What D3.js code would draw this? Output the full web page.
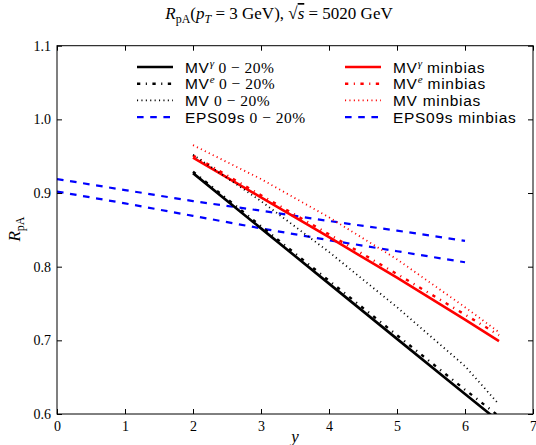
<!DOCTYPE html>
<html><head><meta charset="utf-8">
<script src="https://cdn.jsdelivr.net/npm/d3@7/dist/d3.min.js"></script>
<style>
html,body{margin:0;padding:0;background:#fff;}
svg{display:block;}
</style></head>
<body>
<script>
// ---- data ----
const mvY = [2, 3, 4, 5, 6, 6.5];
const mvGamma020 = [0.927, 0.852, 0.777, 0.702, 0.627, 0.590];
const mvE020     = [0.929, 0.855, 0.781, 0.707, 0.633, 0.597];
const mv020      = [0.952, 0.889, 0.820, 0.745, 0.665, 0.613];
const mvGammaMB  = [0.948, 0.894, 0.840, 0.785, 0.728, 0.699];
const mvEMB      = [0.951, 0.897, 0.844, 0.790, 0.735, 0.707];
const mvMB       = [0.965, 0.919, 0.867, 0.810, 0.745, 0.711];
const epsY = [0, 1, 2, 3, 4, 5, 6];
const eps020 = [0.902, 0.886, 0.869, 0.852, 0.836, 0.821, 0.806];
const epsMB  = [0.919, 0.904, 0.889, 0.876, 0.862, 0.849, 0.835];
const xTicks = [0, 1, 2, 3, 4, 5, 6, 7];
const yTicks = [0.6, 0.7, 0.8, 0.9, 1.0, 1.1];

const W = 536, H = 445;
const L = 57, R = 533, T = 45.7, B = 414;
const SANS = "'Liberation Sans', Arial, sans-serif";
const SERIF = "'Liberation Serif', 'Times New Roman', serif";

const svg = d3.select("body").append("svg").attr("width", W).attr("height", H);
const x = d3.scaleLinear().domain([0, 7]).range([L, R]);
const y = d3.scaleLinear().domain([0.6, 1.1]).range([B, T]);

svg.append("clipPath").attr("id", "clip").append("rect")
  .attr("x", L).attr("y", T).attr("width", R - L).attr("height", B - T);

const styles = {
  solid:   {w: 2.6, dash: null},
  dashdot: {w: 2.4, dash: "3.3,5.5,1.1,5.5"},
  dotted:  {w: 1.8, dash: "1.1,3.3"},
  dashed:  {w: 2.2, dash: "6.6,6.6"}
};

const series = [
  {xs: epsY, ys: eps020, color: "#0000ff", st: "dashed"},
  {xs: epsY, ys: epsMB, color: "#0000ff", st: "dashed"},
  {xs: mvY, ys: mvMB, color: "#ff0000", st: "dotted"},
  {xs: mvY, ys: mvEMB, color: "#ff0000", st: "dashdot"},
  {xs: mvY, ys: mvGammaMB, color: "#ff0000", st: "solid"},
  {xs: mvY, ys: mv020, color: "#000000", st: "dotted"},
  {xs: mvY, ys: mvE020, color: "#000000", st: "dashdot"},
  {xs: mvY, ys: mvGamma020, color: "#000000", st: "solid"}
];

const line = d3.line().x(d => x(d[0])).y(d => y(d[1]));
const g = svg.append("g").attr("clip-path", "url(#clip)");
series.forEach(s => {
  const pts = s.xs.map((v, i) => [v, s.ys[i]]);
  g.append("path").datum(pts).attr("d", line)
    .attr("fill", "none").attr("stroke", s.color)
    .attr("stroke-width", styles[s.st].w)
    .attr("stroke-dasharray", styles[s.st].dash);
});

// axes
function styleAxis(sel) {
  sel.selectAll(".domain").remove();
  sel.selectAll("line").attr("stroke", "#000").attr("stroke-width", 1);
  sel.selectAll("text").attr("font-family", SERIF).attr("font-size", 14).attr("fill", "#000");
}
svg.append("g").attr("transform", `translate(0,${B})`)
  .call(d3.axisBottom(x).tickValues(xTicks).tickFormat(d3.format("d")).tickSizeInner(-5).tickSizeOuter(0).tickPadding(7))
  .call(styleAxis);
svg.append("g").attr("transform", `translate(0,${T})`)
  .call(d3.axisTop(x).tickValues(xTicks).tickFormat("").tickSizeInner(-5).tickSizeOuter(0))
  .call(styleAxis);
svg.append("g").attr("transform", `translate(${L},0)`)
  .call(d3.axisLeft(y).tickValues(yTicks).tickFormat(d3.format(".1f")).tickSizeInner(-5).tickSizeOuter(0).tickPadding(6))
  .call(styleAxis);
svg.append("g").attr("transform", `translate(${R},0)`)
  .call(d3.axisRight(y).tickValues(yTicks).tickFormat("").tickSizeInner(-5).tickSizeOuter(0))
  .call(styleAxis);

svg.append("rect").attr("x", L).attr("y", T).attr("width", R - L).attr("height", B - T)
  .attr("fill", "none").attr("stroke", "#000").attr("stroke-width", 1);

// legend
const legendItems = [
  {col: 0, row: 0, color: "#000000", st: "solid",   parts: [["MV", "s"], ["γ", "sup"], [" 0 − 20%", "m"]]},
  {col: 0, row: 1, color: "#000000", st: "dashdot", parts: [["MV", "s"], ["e", "sup"], [" 0 − 20%", "m"]]},
  {col: 0, row: 2, color: "#000000", st: "dotted",  parts: [["MV", "s"], [" 0 − 20%", "m"]]},
  {col: 0, row: 3, color: "#0000ff", st: "dashed",  parts: [["EPS09s", "s"], [" 0 − 20%", "m"]]},
  {col: 1, row: 0, color: "#ff0000", st: "solid",   parts: [["MV", "s"], ["γ", "sup"], [" minbias", "s"]]},
  {col: 1, row: 1, color: "#ff0000", st: "dashdot", parts: [["MV", "s"], ["e", "sup"], [" minbias", "s"]]},
  {col: 1, row: 2, color: "#ff0000", st: "dotted",  parts: [["MV", "s"], [" minbias", "s"]]},
  {col: 1, row: 3, color: "#0000ff", st: "dashed",  parts: [["EPS09s", "s"], [" minbias", "s"]]}
];
const colX = [137, 345];
const rowY0 = 67, rowDY = 16.7;
legendItems.forEach(it => {
  const lx = colX[it.col], ly = rowY0 + it.row * rowDY;
  svg.append("line").attr("x1", lx).attr("x2", lx + 36).attr("y1", ly).attr("y2", ly)
    .attr("stroke", it.color).attr("stroke-width", styles[it.st].w)
    .attr("stroke-dasharray", styles[it.st].dash);
  const t = svg.append("text").attr("x", lx + 48).attr("y", ly + 5.5).attr("fill", "#000");
  let afterSup = false;
  it.parts.forEach(p => {
    const ts = t.append("tspan").text(p[0]);
    if (p[1] === "sup") {
      ts.attr("font-family", SERIF).attr("font-style", "italic").attr("font-size", 11).attr("dy", -6);
      afterSup = true;
      return;
    }
    ts.attr("font-family", p[1] === "s" ? SANS : SERIF).attr("font-size", 15.5)
      .attr("letter-spacing", p[1] === "s" ? 0.7 : 0.5);
    if (afterSup) { ts.attr("dy", 6); afterSup = false; }
  });
});

// title
const title = svg.append("text").attr("x", 279).attr("y", 19).attr("text-anchor", "middle")
  .attr("font-family", SERIF).attr("font-size", 17).attr("fill", "#000");
title.append("tspan").attr("font-style", "italic").text("R");
title.append("tspan").attr("font-size", 12).attr("dy", 4).text("pA");
title.append("tspan").attr("dy", -4).text("(");
title.append("tspan").attr("font-style", "italic").text("p");
title.append("tspan").attr("font-style", "italic").attr("font-size", 12).attr("dy", 4).text("T");
title.append("tspan").attr("dy", -4).text(" = 3 GeV), √");
title.append("tspan").attr("font-style", "italic").attr("text-decoration", "overline").text("s");
title.append("tspan").text(" = 5020 GeV");

// axis labels
const ylab = svg.append("text").attr("transform", "translate(20,229) rotate(-90)")
  .attr("text-anchor", "middle").attr("font-family", SERIF).attr("font-size", 17).attr("fill", "#000");
ylab.append("tspan").attr("font-style", "italic").text("R");
ylab.append("tspan").attr("font-size", 12).attr("dy", 4).text("pA");

svg.append("text").attr("x", x(3.5)).attr("y", 442).attr("text-anchor", "middle")
  .attr("font-family", SERIF).attr("font-style", "italic").attr("font-size", 17).attr("fill", "#000").text("y");
</script>
</body></html>
